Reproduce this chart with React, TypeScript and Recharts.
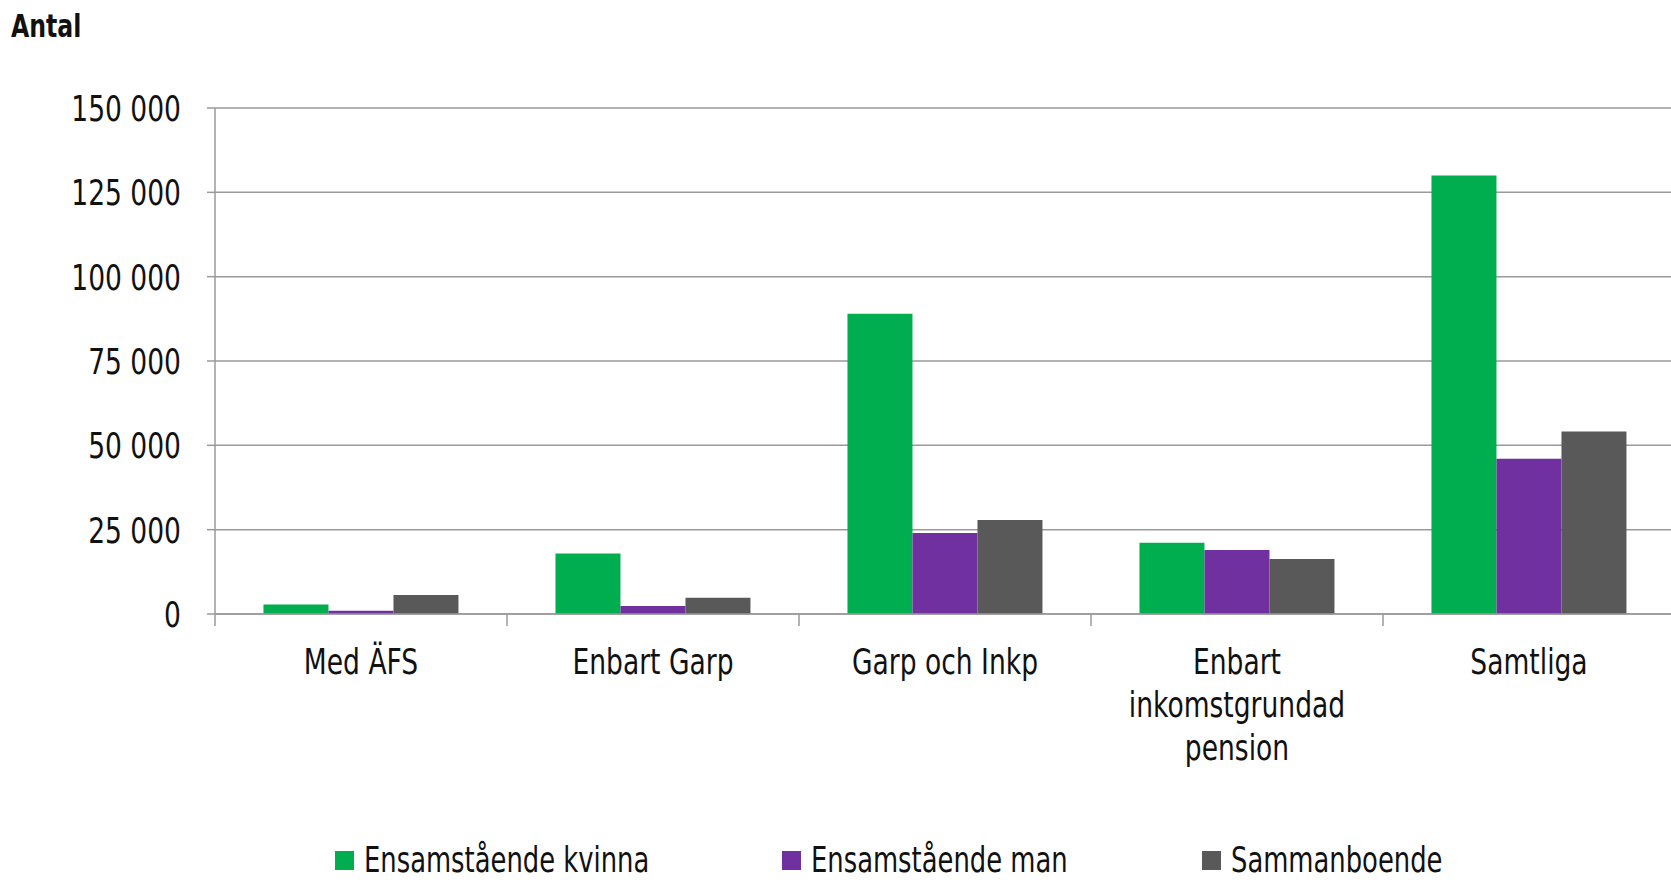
import { BarChart, Bar, XAxis, YAxis, CartesianGrid, Legend } from 'recharts'

const categories = ['Med ÄFS', 'Enbart Garp', 'Garp och Inkp', 'Enbart\ninkomstgrundad\npension', 'Samtliga']
const kvinna = [2800, 17900, 89000, 21100, 130000]
const man = [1000, 2400, 24000, 19000, 46000]
const sammanboende = [5600, 4800, 27900, 16300, 54100]
const yTicks = [0, 25000, 50000, 75000, 100000, 125000, 150000]

const seriesNames = ['Ensamstående kvinna', 'Ensamstående man', 'Sammanboende']
const seriesColors = ['#00AD4F', '#7030A0', '#595959']

const W = 1671
const H = 882
const Y_AXIS_W = 215
// plot runs a few px past the right edge, like the original
const RIGHT = -4
const BAND = (W - Y_AXIS_W - RIGHT) / categories.length
// no condensed font like the original is installed, so squeeze the text horizontally
const SQUEEZE = 0.82
const LEGEND_LEFT = [335, 782, 1202]

const FONT = "'Liberation Sans Narrow', 'DejaVu Sans Condensed', sans-serif"
const GRID = '#9a9a9a'

const data = categories.map((name, i) => ({
  name,
  kvinna: kvinna[i],
  man: man[i],
  sammanboende: sammanboende[i],
}))

const fmt = (v: number) => (v === 0 ? '0' : v.toLocaleString('en-US').replace(/,/g, ' '))

function CategoryTick(props: any) {
  const { x, y, payload } = props
  const lines = String(payload.value).split('\n')
  return (
    <g>
      <line x1={x - BAND / 2} x2={x - BAND / 2} y1={y} y2={y + 12} stroke={GRID} strokeWidth={1.5} />
      <g transform={`translate(${x},${y + 47}) scale(${SQUEEZE},1)`}>
        <text x={0} y={0} textAnchor="middle" fontFamily={FONT} fontSize={36} fill="#111">
          {lines.map((l, i) => (
            <tspan key={i} x={0} dy={i === 0 ? '0.36em' : 43}>
              {l}
            </tspan>
          ))}
        </text>
      </g>
    </g>
  )
}

function ValueTick(props: any) {
  const { x, y, payload } = props
  return (
    <g transform={`translate(${x},${y}) scale(${SQUEEZE},1)`}>
      <text x={0} y={0} dy="0.36em" textAnchor="end" fontFamily={FONT} fontSize={36} fill="#111">
        {fmt(payload.value)}
      </text>
    </g>
  )
}

function LegendContent() {
  return (
    <div style={{ position: 'relative', height: 36 }}>
      {seriesNames.map((n, i) => (
        <div key={n} style={{ position: 'absolute', left: LEGEND_LEFT[i], top: -3, display: 'flex', alignItems: 'center' }}>
          <span style={{ width: 19, height: 19, background: seriesColors[i], display: 'inline-block', marginRight: 10 }} />
          <span
            style={{
              fontFamily: FONT,
              fontSize: 35,
              color: '#111',
              lineHeight: '34px',
              whiteSpace: 'nowrap',
              display: 'inline-block',
              transform: `scaleX(${SQUEEZE})`,
              transformOrigin: 'left center',
            }}
          >
            {n}
          </span>
        </div>
      ))}
    </div>
  )
}

export default function App() {
  return (
    <div style={{ position: 'fixed', left: 0, top: 0, width: W, height: H, background: '#fff', overflow: 'hidden' }}>
      <div
        style={{
          position: 'absolute',
          left: 11,
          top: 7,
          fontFamily: FONT,
          fontWeight: 700,
          fontSize: 32,
          color: '#111',
          transform: `scaleX(${SQUEEZE})`,
          transformOrigin: 'left top',
        }}
      >
        Antal
      </div>
      <BarChart
        width={W}
        height={H}
        data={data}
        margin={{ top: 108, right: RIGHT, bottom: 0, left: 0 }}
        barCategoryGap="16.6%"
        barGap={0}
      >
        <CartesianGrid vertical={false} stroke={GRID} strokeWidth={1.5} />
        <XAxis
          dataKey="name"
          height={232}
          interval={0}
          tickSize={0}
          tickMargin={0}
          tickLine={false}
          axisLine={{ stroke: GRID, strokeWidth: 1.5 }}
          tick={<CategoryTick />}
        />
        <YAxis
          width={Y_AXIS_W}
          domain={[0, 150000]}
          ticks={yTicks}
          tickSize={8}
          tickMargin={26}
          axisLine={{ stroke: GRID, strokeWidth: 1.5 }}
          tickLine={{ stroke: GRID, strokeWidth: 1.5 }}
          tick={<ValueTick />}
        />
        <Legend verticalAlign="bottom" height={36} content={<LegendContent />} />
        <Bar dataKey="kvinna" name={seriesNames[0]} fill={seriesColors[0]} isAnimationActive={false} />
        <Bar dataKey="man" name={seriesNames[1]} fill={seriesColors[1]} isAnimationActive={false} />
        <Bar dataKey="sammanboende" name={seriesNames[2]} fill={seriesColors[2]} isAnimationActive={false} />
      </BarChart>
    </div>
  )
}
